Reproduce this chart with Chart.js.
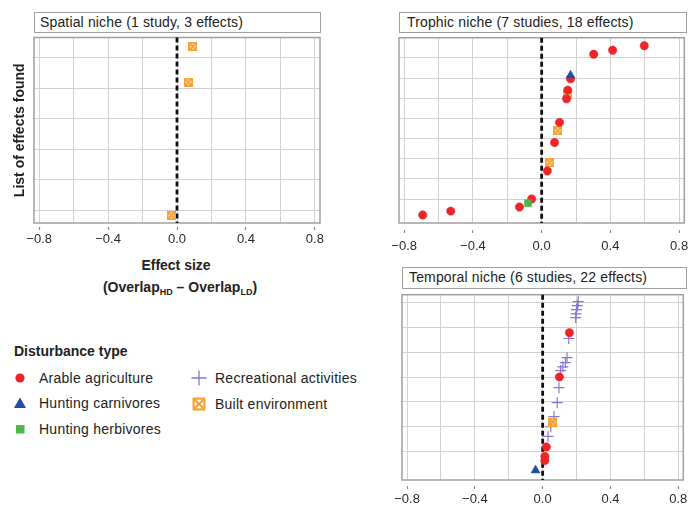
<!DOCTYPE html>
<html>
<head>
<meta charset="utf-8">
<script src="https://cdn.jsdelivr.net/npm/chart.js@4.4.1/dist/chart.umd.min.js"></script>
<style>
  body { margin: 0; background: #fff; font-family: "Liberation Sans", Arial, sans-serif; color: #222; }
  #fig { position: relative; width: 690px; height: 506px; overflow: hidden; }
  .panel { position: absolute; }
  .strip { position: absolute; box-sizing: border-box; border: 1.5px solid #a0a0a0; background: #fff;
           font-size: 14px; line-height: 18px; white-space: nowrap; color: #222; letter-spacing: 0.15px; }
  .xt { position: absolute; text-align: center; font-size: 14px; font-weight: bold; line-height: 18px; white-space: nowrap; }
  .xt sub { font-size: 9px; vertical-align: -3px; }
  .lg { position: absolute; font-size: 14px; line-height: 18px; white-space: nowrap; letter-spacing: 0.25px; }
  .lg svg { position: absolute; }
</style>
</head>
<body>
<div id="fig">
  <div class="strip" style="left:34px;top:12px;width:287px;height:21px;padding-left:5px">Spatial niche (1 study, 3 effects)</div>
  <div class="strip" style="left:399px;top:12px;width:288px;height:21px;padding-left:7px">Trophic niche (7 studies, 18 effects)</div>
  <div class="strip" style="left:402px;top:267px;width:285px;height:22px;padding-left:6px">Temporal niche (6 studies, 22 effects)</div>

  <div class="panel" style="left:0;top:32px;width:330px;height:221px"><canvas id="spatial"></canvas></div>
  <div class="panel" style="left:390px;top:32px;width:300px;height:225px"><canvas id="trophic"></canvas></div>
  <div class="panel" style="left:390px;top:288px;width:300px;height:222px"><canvas id="temporal"></canvas></div>

  <div class="xt" style="left:76px;top:256px;width:200px">Effect size</div>
  <div class="xt" style="left:80px;top:278px;width:200px">(Overlap<sub>HD</sub> – Overlap<sub>LD</sub>)</div>

  <div id="legend"></div>
</div>

<script>
// --- tipos de perturbación ---
const types = ['Arable agriculture', 'Hunting carnivores', 'Hunting herbivores', 'Recreational activities', 'Built environment'];
const typeColors = ['#ee2528', '#1f4fa6', '#4cb849', '#8678cf', '#f7a233'];

// --- ejes ---
const xMin = -0.83, xMax = 0.83;
const xGrid = [-0.8, -0.6, -0.4, -0.2, 0, 0.2, 0.4, 0.6, 0.8];
const xLabeled = [-0.8, -0.4, 0, 0.4, 0.8];

// --- spatial niche (1 study, 3 effects) ---
const spatialEffect = [0.092, 0.067, -0.033];
const spatialRank = [6.38, 5.21, 0.84];
const spatialType = ['Built environment', 'Built environment', 'Built environment'];

// --- trophic niche (7 studies, 18 effects) ---
const trophicEffect = [0.597, 0.413, 0.303, 0.168, 0.168, 0.152, 0.149, 0.145, 0.104, 0.094, 0.075, 0.046, 0.033, -0.058, -0.079, -0.129, -0.529, -0.692];
const trophicRank = [8.6, 8.38, 8.18, 7.13, 6.96, 6.4, 6.17, 5.97, 4.8, 4.39, 3.8, 2.81, 2.39, 1.0, 0.79, 0.6, 0.4, 0.21];
const trophicType = ['Arable agriculture', 'Arable agriculture', 'Arable agriculture', 'Hunting carnivores', 'Arable agriculture',
  'Arable agriculture', 'Built environment', 'Arable agriculture', 'Arable agriculture', 'Built environment', 'Arable agriculture',
  'Built environment', 'Arable agriculture', 'Arable agriculture', 'Hunting herbivores', 'Arable agriculture', 'Arable agriculture', 'Arable agriculture'];

// --- temporal niche (6 studies, 22 effects) ---
const temporalEffect = [0.21, 0.205, 0.2, 0.198, 0.195, 0.158, 0.154, 0.144, 0.134, 0.119, 0.106, 0.099, 0.096, 0.086, 0.067, 0.061, 0.048, 0.032, 0.022, 0.013, 0.013, -0.042];
const temporalRank = [7.03, 6.87, 6.71, 6.54, 6.39, 5.78, 5.55, 4.78, 4.58, 4.41, 4.26, 4.0, 3.57, 2.97, 2.41, 2.19, 2.0, 1.61, 1.19, 0.81, 0.64, 0.25];
const temporalType = ['Recreational activities', 'Recreational activities', 'Recreational activities', 'Recreational activities', 'Recreational activities',
  'Arable agriculture', 'Recreational activities', 'Recreational activities', 'Recreational activities', 'Recreational activities', 'Recreational activities',
  'Arable agriculture', 'Recreational activities', 'Recreational activities', 'Recreational activities', 'Built environment', 'Recreational activities',
  'Recreational activities', 'Arable agriculture', 'Arable agriculture', 'Arable agriculture', 'Hunting carnivores'];

const FONT = '"Liberation Sans", Arial, sans-serif';
const colorOf = t => typeColors[types.indexOf(t)];

// cuadrado con cruz (built environment)
function marcaBuilt(size) {
  const c = document.createElement('canvas');
  c.width = c.height = size;
  const g = c.getContext('2d');
  g.strokeStyle = colorOf('Built environment');
  g.lineWidth = 1.8;
  g.strokeRect(0.9, 0.9, size - 1.8, size - 1.8);
  g.beginPath();
  g.moveTo(1, 1); g.lineTo(size - 1, size - 1);
  g.moveTo(size - 1, 1); g.lineTo(1, size - 1);
  g.stroke();
  return c;
}
const builtImg = marcaBuilt(9);

function estilo(t) {
  const col = colorOf(t);
  switch (t) {
    case 'Arable agriculture': return { pointStyle: 'circle', pointRadius: 4.2, backgroundColor: col, borderColor: col, borderWidth: 0.5 };
    case 'Hunting carnivores': return { pointStyle: 'triangle', pointRadius: 5.2, backgroundColor: col, borderColor: col, borderWidth: 0.5 };
    case 'Hunting herbivores': return { pointStyle: 'rect', pointRadius: 5, backgroundColor: col, borderColor: col, borderWidth: 0.5 };
    case 'Recreational activities': return { pointStyle: 'cross', pointRadius: 5.5, backgroundColor: col, borderColor: col, borderWidth: 1.2 };
    default: return { pointStyle: builtImg, pointRadius: 4.5, backgroundColor: col, borderColor: col };
  }
}
// el primer dataset queda encima
const drawOrder = ['Hunting carnivores', 'Hunting herbivores', 'Arable agriculture', 'Built environment', 'Recreational activities'];

const isLabeled = v => xLabeled.some(l => Math.abs(l - v) < 1e-6);
const fmt = v => (v < -1e-9 ? '\u2212' : '') + Math.abs(v).toFixed(1);

const decoracion = {
  id: 'decoracion',
  beforeDatasetsDraw(chart) {
    const { ctx, chartArea: a, scales } = chart;
    ctx.save();
    ctx.strokeStyle = '#a0a0a0';
    ctx.lineWidth = 1.5;
    ctx.strokeRect(a.left, a.top, a.right - a.left, a.bottom - a.top);
    const x0 = scales.x.getPixelForValue(0);
    ctx.strokeStyle = '#111';
    ctx.lineWidth = 2.8;
    ctx.setLineDash([5, 3]);
    ctx.beginPath();
    ctx.moveTo(x0, a.top);
    ctx.lineTo(x0, a.bottom);
    ctx.stroke();
    ctx.restore();
  }
};

function crearPanel(id, effect, rank, type, opt) {
  const datasets = drawOrder.filter(t => type.includes(t)).map(t => Object.assign({
    label: t,
    data: effect.map((e, i) => ({ x: e, y: rank[i], t: type[i] })).filter(p => p.t === t)
  }, estilo(t)));

  new Chart(document.getElementById(id), {
    type: 'scatter',
    data: { datasets },
    options: {
      responsive: true,
      maintainAspectRatio: false,
      animation: false,
      layout: { padding: { right: opt.padRight, top: 0, left: 0, bottom: 0 } },
      plugins: { legend: { display: false }, tooltip: { enabled: false } },
      scales: {
        x: {
          type: 'linear', min: xMin, max: xMax,
          afterBuildTicks: s => { s.ticks = xGrid.map(v => ({ value: v })); },
          afterFit: s => { s.height = opt.xHeight; s.paddingLeft = 0; s.paddingRight = 0; },
          border: { display: false },
          grid: {
            color: '#d2d2d2', lineWidth: 1,
            tickLength: opt.tickLen, tickBorderDash: [0, opt.tickLen - 3, 3], tickWidth: 1.2,
            tickColor: c => (c.tick && isLabeled(c.tick.value)) ? '#8a8a8a' : 'rgba(0,0,0,0)'
          },
          ticks: {
            autoSkip: false, maxRotation: 0, padding: opt.tickPad, color: '#2a2a2a',
            font: { family: FONT, size: 13 },
            callback: v => isLabeled(v) ? fmt(v) : ''
          }
        },
        y: {
          type: 'linear', min: opt.yMin, max: opt.yMax,
          afterBuildTicks: s => { s.ticks = opt.yGrid.map(v => ({ value: v })); },
          afterFit: s => { s.width = opt.yWidth; },
          border: { display: false },
          grid: { color: '#d2d2d2', lineWidth: 1, drawTicks: false },
          ticks: { display: false },
          title: {
            display: !!opt.yTitle, text: opt.yTitle || '', color: '#222',
            font: { family: FONT, size: 14, weight: 'bold' }, padding: { top: 12, bottom: 0 }
          }
        }
      }
    },
    plugins: [decoracion]
  });
}

crearPanel('spatial', spatialEffect, spatialRank, spatialType, {
  padRight: 10, yWidth: 34, xHeight: 30, tickLen: 7, tickPad: 2,
  yMin: 0.59, yMax: 6.67, yGrid: [1, 2, 3, 4, 5, 6], yTitle: 'List of effects found'
});
crearPanel('trophic', trophicEffect, trophicRank, trophicType, {
  padRight: 4, yWidth: 9, xHeight: 34, tickLen: 10, tickPad: 6,
  yMin: -0.19, yMax: 9.0, yGrid: [1, 2, 3, 4, 5, 6, 7, 8]
});
crearPanel('temporal', temporalEffect, temporalRank, temporalType, {
  padRight: 4, yWidth: 12, xHeight: 30, tickLen: 9, tickPad: 2.5,
  yMin: -0.14, yMax: 7.31, yGrid: [1, 2, 3, 4, 5, 6, 7]
});

// --- leyenda ---
const simbolos = {
  'Arable agriculture': c => `<circle cx="8" cy="8" r="4.6" fill="${c}"/>`,
  'Hunting carnivores': c => `<polygon points="8,2.5 14,13 2,13" fill="${c}"/>`,
  'Hunting herbivores': c => `<rect x="4" y="4" width="8.5" height="8.5" fill="${c}"/>`,
  'Recreational activities': c => `<path d="M0.5 8 H15.5 M8 0.5 V15.5" stroke="${c}" stroke-width="1.3" fill="none"/>`,
  'Built environment': c => `<rect x="2.6" y="2.6" width="10.8" height="10.8" fill="none" stroke="${c}" stroke-width="2.2"/>` +
    `<path d="M3 3 L13 13 M13 3 L3 13" stroke="${c}" stroke-width="2.2"/>`
};
const legendPos = {
  'Arable agriculture': [19.7, 377.5, 39],
  'Hunting carnivores': [19.7, 403.3, 39],
  'Hunting herbivores': [19.7, 429.3, 39],
  'Recreational activities': [199, 378, 215],
  'Built environment': [199, 404, 215]
};
let html = '<div class="lg" style="left:14px;top:342px;font-weight:bold;letter-spacing:0">Disturbance type</div>';
types.forEach(t => {
  const [sx, sy, tx] = legendPos[t];
  html += `<svg width="16" height="16" style="position:absolute;left:${sx - 8}px;top:${sy - 8}px">${simbolos[t](colorOf(t))}</svg>`;
  html += `<div class="lg" style="left:${tx}px;top:${sy - 9}px">${t}</div>`;
});
document.getElementById('legend').innerHTML = html;
</script>
</body>
</html>
